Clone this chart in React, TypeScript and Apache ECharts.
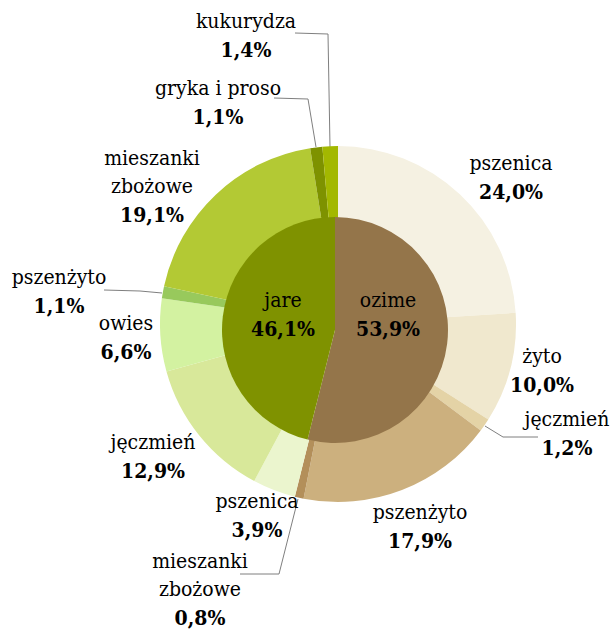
import React, { useEffect, useRef } from "react";
import * as echarts from "echarts";

const outerNames = [
  "pszenica", "żyto", "jęczmień", "pszenżyto", "mieszanki\nzbożowe",
  "pszenica", "jęczmień", "owies", "pszenżyto", "mieszanki\nzbożowe",
  "gryka i proso", "kukurydza",
];
const outerValues = [24.0, 10.0, 1.2, 17.9, 0.8, 3.9, 12.9, 6.6, 1.1, 19.1, 1.1, 1.4];
const outerColors = [
  "#F5F1E2", "#F0E8CE", "#E4D3A6", "#CCB07E", "#B38F5A",
  "#EBF5CE", "#D8E89A", "#D3F2A1", "#98C95C", "#B3C934", "#7E9200", "#A3B800",
];
const innerNames = ["ozime", "jare"];
const innerValues = [53.9, 46.1];
const innerColors = ["#94754A", "#7F9200"];

// label annotation placement (block centres) and leader lines
const outerLabelPos: [number, number][] = [
  [511, 177], [542, 370], [567, 433], [420, 526], [200, 589], [257, 515],
  [153, 456], [126, 337], [59, 291], [152, 186], [218, 102], [246, 35],
];
const leaderLines: Record<number, [number, number][]> = {
  2: [[485, 426], [503, 437], [538, 437]],
  4: [[298, 499], [279, 574], [240, 574]],
  8: [[162, 293], [140, 291], [104, 290]],
  10: [[316, 147], [308, 99], [274, 98]],
  11: [[330, 147], [328, 34], [295, 33]],
};
const innerLabelPos: [number, number][] = [[388, 314], [283, 314]];

const fmt = (v: number) => v.toFixed(1).replace(".", ",") + "%";

const FONT = "DejaVu Serif Condensed";
const FS = 21;
const rich = {
  n: { fontFamily: FONT, fontSize: FS, color: "#000", lineHeight: 28, align: "center" },
  v: { fontFamily: FONT, fontSize: FS, fontWeight: "bold", color: "#000", lineHeight: 28, align: "center" },
};

export default function App() {
  const ref = useRef<HTMLDivElement>(null);
  useEffect(() => {
    document.body.style.margin = "0";
    const chart = echarts.init(ref.current!, null, { renderer: "svg" });
    const outerData = outerNames.map((n, i) => ({
      name: n,
      value: outerValues[i],
      itemStyle: { color: outerColors[i] },
      labelLine: { show: leaderLines[i] != null },
    }));
    const innerData = innerNames.map((n, i) => ({
      name: n,
      value: innerValues[i],
      itemStyle: { color: innerColors[i] },
    }));
    chart.setOption({
      animation: false,
      backgroundColor: "#fff",
      series: [
        {
          type: "pie",
          center: [338, 324],
          radius: [100, 178],
          startAngle: 90,
          clockwise: true,
          avoidLabelOverlap: false,
          silent: true,
          data: outerData,
          itemStyle: { borderWidth: 0 },
          label: {
            show: true,
            position: "outside",
            fontFamily: FONT,
            fontSize: FS,
            color: "#000",
            formatter: (p: any) => {
              const lines = String(p.name).split("\n").map((l) => `{n|${l}}`).join("\n");
              return `${lines}\n{v|${fmt(p.value)}}`;
            },
            rich,
          },
          labelLine: { lineStyle: { color: "#7f7f7f", width: 1 } },
          labelLayout: (p: any) => {
            const i = p.dataIndex;
            const pos = outerLabelPos[i];
            const o: any = { x: pos[0], y: pos[1], align: "center", verticalAlign: "middle" };
            if (leaderLines[i]) o.labelLinePoints = leaderLines[i];
            return o;
          },
        },
        {
          type: "pie",
          center: [335, 330],
          radius: [0, 113],
          startAngle: 90,
          clockwise: true,
          avoidLabelOverlap: false,
          silent: true,
          z: 3,
          data: innerData,
          itemStyle: { borderWidth: 0 },
          label: {
            show: true,
            position: "inside",
            fontFamily: FONT,
            fontSize: FS,
            color: "#000",
            formatter: (p: any) => `{n|${p.name}}\n{v|${fmt(p.value)}}`,
            rich,
          },
          labelLine: { show: false },
          labelLayout: (p: any) => {
            const pos = innerLabelPos[p.dataIndex];
            return { x: pos[0], y: pos[1], align: "center", verticalAlign: "middle" };
          },
        },
      ],
    });
    return () => chart.dispose();
  }, []);
  return <div ref={ref} style={{ width: 616, height: 630 }} />;
}
